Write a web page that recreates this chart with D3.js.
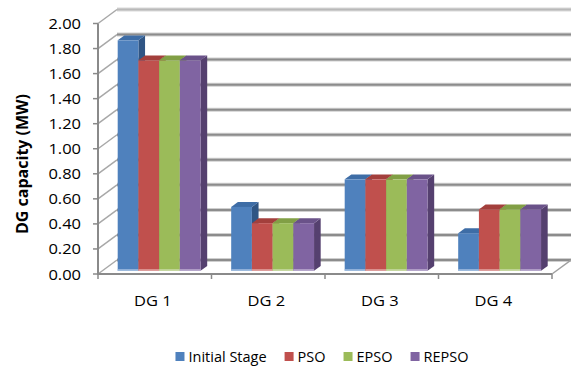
<!DOCTYPE html>
<html>
<head>
<meta charset="utf-8">
<script src="https://cdn.jsdelivr.net/npm/d3@7/dist/d3.min.js"></script>
<style>
  html, body { margin: 0; padding: 0; background: #fff; }
  svg { display: block; }
  text { font-family: "Open Sans", "Liberation Sans", sans-serif; fill: #000; }
</style>
</head>
<body>
<svg id="chart" width="571" height="369"></svg>
<script>
// DG capacity per location for each optimisation stage
const categories = ["DG 1", "DG 2", "DG 3", "DG 4"];
const seriesNames = ["Initial Stage", "PSO", "EPSO", "REPSO"];
const initialStage = [1.84, 0.51, 0.73, 0.30];
const pso   = [1.68, 0.38, 0.73, 0.49];
const epso  = [1.68, 0.38, 0.73, 0.49];
const repso = [1.68, 0.38, 0.73, 0.49];
const yTicks = [0, 0.2, 0.4, 0.6, 0.8, 1.0, 1.2, 1.4, 1.6, 1.8, 2.0];
const yLabel = "DG capacity (MW)";

const seriesValues = [initialStage, pso, epso, repso];
const colors = {
  front: ["#4F81BD", "#C0504D", "#9BBB59", "#8064A2"],
  top:   ["#3E6DA6", "#A33F3C", "#819F45", "#6A5289"],
  side:  ["#2F5584", "#8A3331", "#6B863A", "#55406F"],
  base:  ["#A9C3E3", "#E3A9A7", "#CCDDAB", "#BFB0D3"]
};

const svg = d3.select("#chart");

// front plane of the 3-D box
const left = 98, right = 552;
const y = d3.scaleLinear().domain([0, 2]).range([274, 23.5]);
const x = d3.scaleBand().domain(categories).range([left, right]).paddingInner(0).paddingOuter(0);
const xs = d3.scaleBand().domain(seriesNames).range([0, x.bandwidth()]).paddingInner(0).paddingOuter(0.74);

// depth vector of the box and where the bars sit inside it
const depth = { dx: 19, dy: -14 };
const barFront = 0.23, barBack = 0.58;

const wall = svg.append("g");

// back wall gridlines (3-D look: light halo with darker core)
yTicks.forEach((t, i) => {
  const yy = y(t) + depth.dy;
  const top = i === yTicks.length - 1;
  wall.append("line")
    .attr("x1", left + depth.dx).attr("x2", right + depth.dx)
    .attr("y1", yy).attr("y2", yy)
    .attr("stroke", top ? "#dadada" : "#cfcfcf").attr("stroke-width", 4);
  wall.append("line")
    .attr("x1", left + depth.dx).attr("x2", right + depth.dx)
    .attr("y1", yy).attr("y2", yy)
    .attr("stroke", top ? "#b9b9b9" : "#8c8c8c").attr("stroke-width", 2);
});

// side wall gridlines
yTicks.forEach(t => {
  wall.append("line")
    .attr("x1", left).attr("y1", y(t))
    .attr("x2", left + depth.dx).attr("y2", y(t) + depth.dy)
    .attr("stroke", "#a8a8a8").attr("stroke-width", 1.5);
});

// right edge of the floor
wall.append("line")
  .attr("x1", right).attr("y1", y(0))
  .attr("x2", right + depth.dx).attr("y2", y(0) + depth.dy)
  .attr("stroke", "#a0a0a0").attr("stroke-width", 1.5);

// bars
const fdx = barFront * depth.dx, fdy = barFront * depth.dy;
const bdx = (barBack - barFront) * depth.dx, bdy = (barBack - barFront) * depth.dy;
const bars = svg.append("g");
categories.forEach((c, ci) => {
  seriesNames.forEach((s, si) => {
    const v = seriesValues[si][ci];
    const x0 = x(c) + xs(s) + fdx;
    const x1 = x0 + xs.bandwidth();
    const yt = y(v) + fdy;
    const yb = y(0) + fdy;
    const g = bars.append("g");
    g.append("polygon")
      .attr("points", [[x1, yt], [x1 + bdx, yt + bdy], [x1 + bdx, yb + bdy], [x1, yb]].join(" "))
      .attr("fill", colors.side[si]);
    g.append("polygon")
      .attr("points", [[x0, yt], [x1, yt], [x1 + bdx, yt + bdy], [x0 + bdx, yt + bdy]].join(" "))
      .attr("fill", colors.top[si]);
    g.append("rect")
      .attr("x", x0).attr("y", yt)
      .attr("width", x1 - x0).attr("height", yb - yt)
      .attr("fill", colors.front[si]);
    g.append("rect")
      .attr("x", x0).attr("y", yb - 1.5)
      .attr("width", x1 - x0).attr("height", 1.5)
      .attr("fill", colors.base[si]);
  });
});

// front value axis
const axisG = svg.append("g");
axisG.append("line")
  .attr("x1", left).attr("x2", left)
  .attr("y1", y(2)).attr("y2", y(0) + 1)
  .attr("stroke", "#8a8a8a").attr("stroke-width", 2);
yTicks.forEach(t => {
  axisG.append("line")
    .attr("x1", left - 5).attr("x2", left)
    .attr("y1", y(t)).attr("y2", y(t))
    .attr("stroke", "#8a8a8a").attr("stroke-width", 1.5);
  axisG.append("text")
    .attr("transform", `translate(81,${y(t) + 5.5}) scale(1.1,1)`)
    .attr("text-anchor", "end")
    .attr("font-size", 15)
    .text(d3.format(".2f")(t));
});

// floor front edge and category ticks
axisG.append("line")
  .attr("x1", left - 1).attr("x2", right)
  .attr("y1", y(0)).attr("y2", y(0))
  .attr("stroke", "#8a8a8a").attr("stroke-width", 2);
[left].concat(categories.map(c => x(c) + x.bandwidth())).forEach(px => {
  axisG.append("line")
    .attr("x1", px).attr("x2", px)
    .attr("y1", y(0)).attr("y2", y(0) + 5)
    .attr("stroke", "#8a8a8a").attr("stroke-width", 1.5);
});
categories.forEach(c => {
  axisG.append("text")
    .attr("transform", `translate(${x(c) + x.bandwidth() / 2 - 2},306) scale(1.1,1)`)
    .attr("text-anchor", "middle")
    .attr("font-size", 15)
    .text(c);
});

// axis title
svg.append("text")
  .attr("transform", "translate(28,164) rotate(-90)")
  .attr("text-anchor", "middle")
  .attr("font-size", 16)
  .attr("font-weight", "bold")
  .text(yLabel);

// legend
const legend = svg.append("g");
const items = seriesNames.map((name, i) => {
  const g = legend.append("g");
  g.append("rect").attr("x", 0).attr("y", -10).attr("width", 9).attr("height", 9)
    .attr("fill", colors.front[i]);
  const t = g.append("text").attr("x", 13).attr("y", 0)
    .attr("font-size", 14.5).text(name);
  return { g, w: 13 + t.node().getComputedTextLength() };
});
const gap = 18;
const total = d3.sum(items, d => d.w) + gap * (items.length - 1);
let lx = 322 - total / 2;
items.forEach(it => {
  it.g.attr("transform", `translate(${lx},362)`);
  lx += it.w + gap;
});
</script>
</body>
</html>
